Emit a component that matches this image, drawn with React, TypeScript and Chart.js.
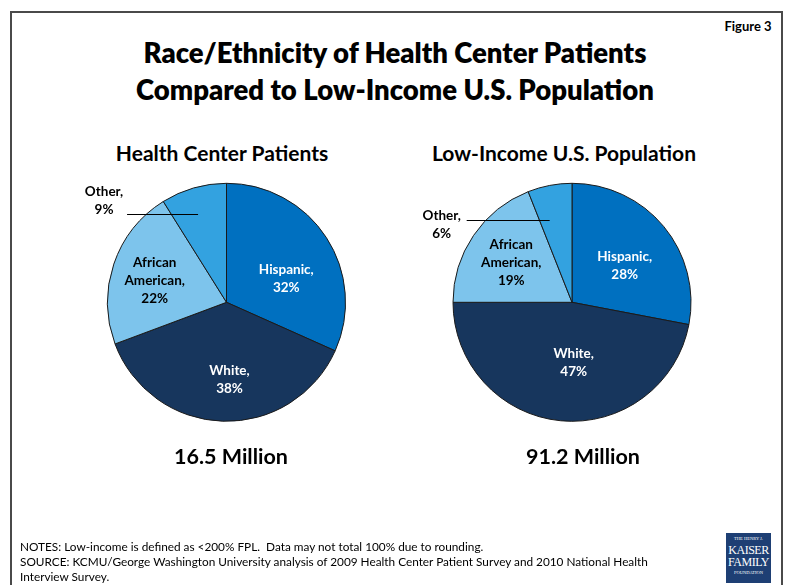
import React, { useEffect, useRef } from "react";
import { Chart, registerables } from "chart.js";

Chart.register(...registerables);

// ---- data ----
const categories = ["Hispanic", "White", "African American", "Other"];
const healthCenterValues = [32, 38, 22, 9];
const lowIncomeValues = [28, 47, 19, 6];
const sliceColors = ["#0070C0", "#17365D", "#7DC4EC", "#33A2E0"];
const labelColors = ["#FFFFFF", "#FFFFFF", "#000000", "#000000"];

const titleLines = ["Race/Ethnicity of Health Center Patients", "Compared to Low-Income U.S. Population"];
const pieTitles = ["Health Center Patients", "Low-Income U.S. Population"];
const pieTotals = ["16.5 Million", "91.2 Million"];
const notesLines = [
  "NOTES: Low-income is defined as <200% FPL.  Data may not total 100% due to rounding.",
  "SOURCE: KCMU/George Washington University analysis of 2009 Health Center Patient Survey and 2010 National Health",
  "Interview Survey.",
];

const FONT = "Lato, 'Open Sans', sans-serif";
const W = 785;
const H = 585;

type LabelLayout = {
  shiftDeg: number[]; // angular nudge of inside labels
  radius: number[]; // radius fraction of inside labels
  calloutIndex: number; // slice labelled outside with a leader line
  calloutRadius: number;
  calloutShiftDeg: number;
  calloutLen: number;
  calloutTextDx: number;
  calloutTextDy: number;
};

function labelLines(name: string, value: number): string[] {
  const words = name.split(" ");
  const lines = words.map((w, i) => (i === words.length - 1 ? w + "," : w));
  lines.push(value + "%");
  return lines;
}

function makeLabelPlugin(layout: LabelLayout) {
  return {
    id: "sliceLabels",
    afterDatasetsDraw(chart: any) {
      const ctx = chart.ctx as CanvasRenderingContext2D;
      const meta = chart.getDatasetMeta(0);
      const data = chart.data.datasets[0].data as number[];
      const labels = chart.data.labels as string[];
      const lh = 18;
      ctx.save();
      ctx.font = `bold 13.5px ${FONT}`;
      ctx.textAlign = "center";
      ctx.textBaseline = "middle";
      meta.data.forEach((arc: any, i: number) => {
        const { x, y, startAngle, endAngle, outerRadius } = arc.getProps(
          ["x", "y", "startAngle", "endAngle", "outerRadius"],
          true
        );
        const mid = (startAngle + endAngle) / 2;
        const lines = labelLines(labels[i], data[i]);
        if (i === layout.calloutIndex) {
          const a = mid + (layout.calloutShiftDeg * Math.PI) / 180;
          const ex = x + Math.cos(a) * outerRadius * layout.calloutRadius;
          const ey = y + Math.sin(a) * outerRadius * layout.calloutRadius;
          const sx = ex - layout.calloutLen;
          ctx.strokeStyle = "#000";
          ctx.lineWidth = 1;
          ctx.beginPath();
          ctx.moveTo(sx, Math.round(ey) + 0.5);
          ctx.lineTo(ex, Math.round(ey) + 0.5);
          ctx.stroke();
          const cx = sx + layout.calloutTextDx;
          const cy = ey + layout.calloutTextDy;
          ctx.fillStyle = labelColors[i];
          lines.forEach((t, k) => {
            ctx.fillText(t, cx, cy + (k - (lines.length - 1) / 2) * lh);
          });
          return;
        }
        const a = mid + (layout.shiftDeg[i] * Math.PI) / 180;
        const r = outerRadius * layout.radius[i];
        const cx = x + Math.cos(a) * r;
        const cy = y + Math.sin(a) * r;
        ctx.fillStyle = labelColors[i];
        lines.forEach((t, k) => {
          ctx.fillText(t, cx, cy + (k - (lines.length - 1) / 2) * lh);
        });
      });
      ctx.restore();
    },
  };
}

function PieCanvas(props: {
  values: number[];
  radius: number;
  padding: { left: number; right: number; top: number; bottom: number };
  layout: LabelLayout;
}) {
  const ref = useRef<HTMLCanvasElement | null>(null);
  useEffect(() => {
    if (!ref.current) return;
    const chart = new Chart(ref.current, {
      type: "pie",
      data: {
        labels: categories,
        datasets: [
          {
            data: props.values,
            backgroundColor: sliceColors,
            borderColor: "#1a1a1a",
            borderWidth: 1,
          },
        ],
      },
      options: {
        animation: false,
        responsive: false,
        events: [],
        radius: props.radius,
        layout: { padding: props.padding },
        plugins: { legend: { display: false }, tooltip: { enabled: false } },
      } as any,
      plugins: [makeLabelPlugin(props.layout)],
    });
    return () => chart.destroy();
  }, []);
  return (
    <canvas
      ref={ref}
      width={W}
      height={H}
      style={{ position: "absolute", left: 0, top: 0, width: W, height: H }}
    />
  );
}

const text = (
  s: string,
  cx: number,
  cy: number,
  size: number,
  weight: number,
  extra: React.CSSProperties = {}
) => (
  <div
    style={{
      position: "absolute",
      left: cx,
      top: cy,
      transform: "translate(-50%, -50%)",
      whiteSpace: "pre",
      fontFamily: FONT,
      fontSize: size,
      fontWeight: weight,
      lineHeight: 1,
      color: "#000",
      ...extra,
    }}
  >
    {s}
  </div>
);

export default function App() {
  const layout1: LabelLayout = {
    shiftDeg: [11.5, -4, -2, 0],
    radius: [0.54, 0.65, 0.63, 0],
    calloutIndex: 3,
    calloutRadius: 0.78,
    calloutShiftDeg: -1.8,
    calloutLen: 71,
    calloutTextDx: -23,
    calloutTextDy: -13.5,
  };
  const layout2: LabelLayout = {
    shiftDeg: [4.7, -7, -1, 0],
    radius: [0.54, 0.51, 0.61, 0],
    calloutIndex: 3,
    calloutRadius: 0.72,
    calloutShiftDeg: -4.3,
    calloutLen: 83,
    calloutTextDx: -25,
    calloutTextDy: 4.6,
  };
  return (
    <div
      style={{
        position: "fixed",
        left: 0,
        top: 0,
        width: W,
        height: H,
        background: "#fff",
        overflow: "hidden",
      }}
    >
      {/* frame */}
      <div
        style={{
          position: "absolute",
          left: 10,
          top: 11,
          width: 769,
          height: 600,
          borderTop: "2px solid #4a4a4a",
          borderLeft: "2px solid #4a4a4a",
          borderRight: "2px solid #4a4a4a",
        }}
      />
      {text("Figure 3", 748, 26, 13, 700)}
      {text(titleLines[0], 395, 53, 27.5, 800)}
      {text(titleLines[1], 395, 90, 27.5, 800)}
      {text(pieTitles[0], 222, 152, 21, 700)}
      {text(pieTitles[1], 564, 152, 21, 700)}
      <PieCanvas
        values={healthCenterValues}
        radius={119}
        padding={{ left: 0, right: 332, top: 19.6, bottom: 0 }}
        layout={layout1}
      />
      <PieCanvas
        values={lowIncomeValues}
        radius={119}
        padding={{ left: 359, right: 0, top: 19.6, bottom: 0 }}
        layout={layout2}
      />
      {text(pieTotals[0], 231, 457, 21.5, 700)}
      {text(pieTotals[1], 583, 457, 21.5, 700)}
      {notesLines.map((l, i) => (
        <div
          key={i}
          style={{
            position: "absolute",
            left: 20,
            top: 547 + i * 15,
            transform: "translateY(-50%)",
            whiteSpace: "pre",
            fontFamily: FONT,
            fontSize: 11.8,
            lineHeight: 1,
            color: "#000",
          }}
        >
          {l}
        </div>
      ))}
      {/* logo */}
      <div
        style={{
          position: "absolute",
          left: 726,
          top: 533,
          width: 45,
          height: 50,
          background: "#1E3F74",
          color: "#fff",
          fontFamily: "'Liberation Serif', 'DejaVu Serif', serif",
          textAlign: "center",
          lineHeight: 1,
        }}
      >
        <div style={{ fontSize: 4.5, paddingTop: 4 }}>THE HENRY J.</div>
        <div style={{ fontSize: 12, marginTop: 2, letterSpacing: -0.5 }}>KAISER</div>
        <div style={{ fontSize: 12, letterSpacing: -0.5 }}>FAMILY</div>
        <div style={{ fontSize: 4.5, marginTop: 3 }}>FOUNDATION</div>
      </div>
    </div>
  );
}
